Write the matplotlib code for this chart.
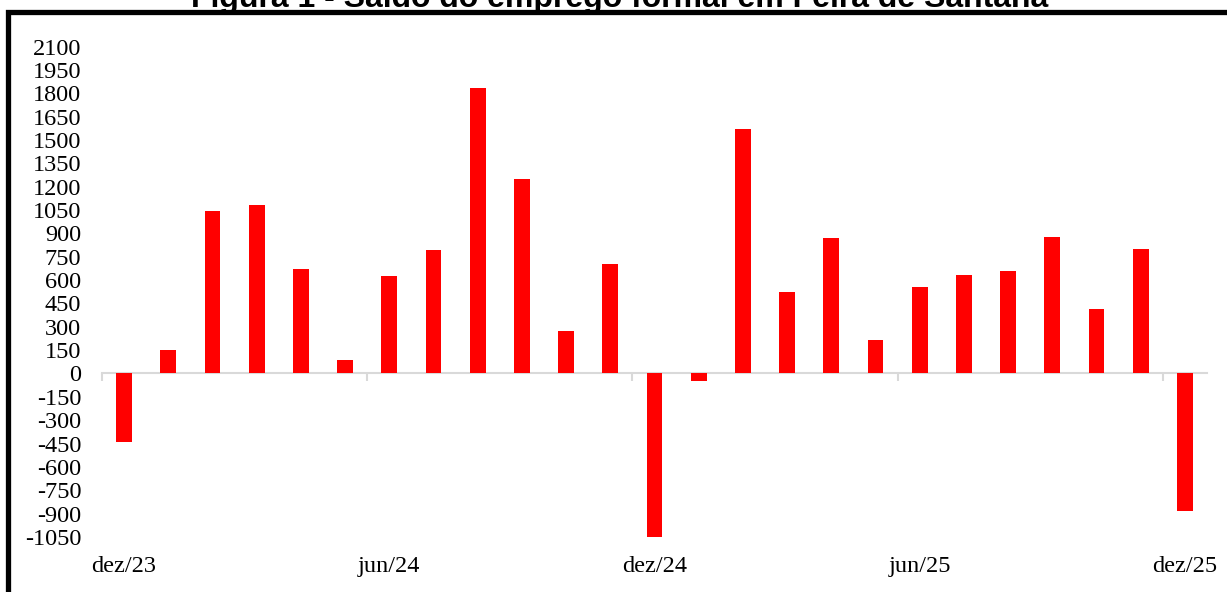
import matplotlib.pyplot as plt
import matplotlib.transforms as mtransforms
from matplotlib.patches import Rectangle

# dados: saldo mensal do emprego formal (dez/23 a dez/25)
meses = ["dez/23", "jan/24", "fev/24", "mar/24", "abr/24", "mai/24", "jun/24",
         "jul/24", "ago/24", "set/24", "out/24", "nov/24", "dez/24",
         "jan/25", "fev/25", "mar/25", "abr/25", "mai/25", "jun/25",
         "jul/25", "ago/25", "set/25", "out/25", "nov/25", "dez/25"]
saldo = [-440, 148, 1045, 1080, 672, 88, 625, 795, 1835, 1247, 272, 704, -1049,
         -47, 1572, 525, 869, 218, 553, 633, 660, 879, 416, 799, -882]
rotulos_x = ["dez/23", "jun/24", "dez/24", "jun/25", "dez/25"]
yticks = list(range(-1050, 2101, 150))

plt.rcParams['font.family'] = ['Liberation Serif', 'DejaVu Serif']

fig = plt.figure(figsize=(12.27, 5.92), dpi=100)
ax = fig.add_axes([0.0831, 0.0931, 0.9006, 0.828])

x = list(range(len(meses)))
ax.bar(x, saldo, width=0.36, color="#ff0000", edgecolor="none", zorder=3)

ax.set_xlim(-0.5, len(meses) - 0.5)
ax.set_ylim(-1050, 2100)
ax.set_yticks(yticks)
ax.set_yticklabels([str(v) for v in yticks], fontsize=17.5)
ax.tick_params(axis='y', length=0, pad=15)

# eixo x na linha do zero, com marcas entre os semestres
for s in ['top', 'right', 'left']:
    ax.spines[s].set_visible(False)
ax.spines['bottom'].set_position(('data', 0))
ax.spines['bottom'].set_color("#d9d9d9")
ax.spines['bottom'].set_linewidth(1.5)
ax.set_xticks([])
ax.set_xticks([-0.5, 5.5, 11.5, 17.5, 23.5], minor=True)
ax.tick_params(axis='x', which='minor', direction='out', length=6,
               width=1.5, color="#d9d9d9")

# rótulos do eixo x na parte de baixo do gráfico
trans = mtransforms.blended_transform_factory(ax.transData, ax.transAxes)
for lab in rotulos_x:
    ax.text(meses.index(lab), -0.06, lab, transform=trans, ha='center',
            va='center', fontsize=17.5)

# moldura e título (cortado no topo)
fig.patches.append(Rectangle((7.5 / 1227, -0.1), 1.2, 1.1 - 12 / 592,
                             transform=fig.transFigure, fill=False,
                             edgecolor="black", linewidth=3.8))
fig.text(0.505, 1 - 6.5 / 592, "Figura 1 - Saldo do emprego formal em Feira de Santana",
         ha='center', va='baseline', fontsize=23, fontweight='bold',
         family=['Liberation Sans', 'DejaVu Sans'])

fig.savefig("out.png", dpi=100)
